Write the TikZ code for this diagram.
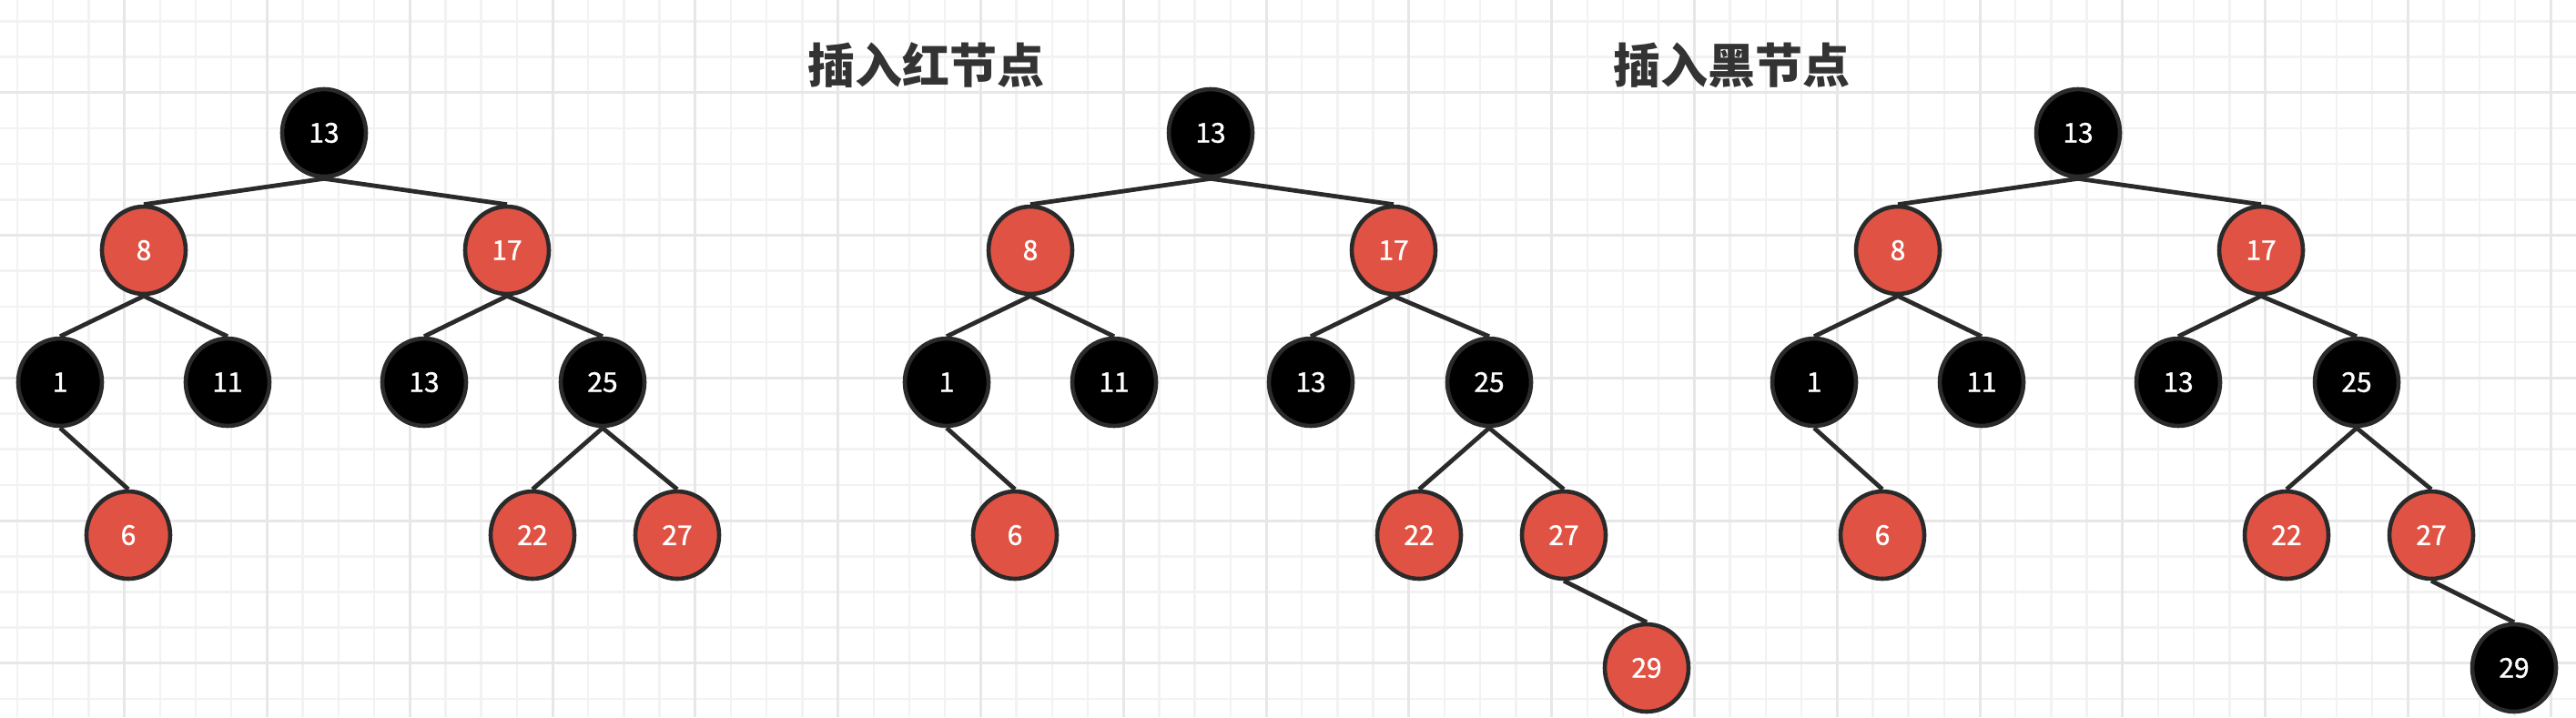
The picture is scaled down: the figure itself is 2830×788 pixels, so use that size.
\documentclass[tikz,border=0pt]{standalone}
\usepackage{fontspec}
\setmainfont{Noto Sans CJK SC}
\newfontfamily\digitfont[FakeBold=1.2]{Noto Sans CJK SC}
\usetikzlibrary{shapes.geometric}
\definecolor{rbred}{HTML}{E05243}
\definecolor{rbedge}{HTML}{2A2A2A}
\definecolor{gridminor}{HTML}{F2F2F2}
\definecolor{gridmajor}{HTML}{E7E7E7}
\definecolor{titlecol}{HTML}{333333}
\tikzset{
  rbnode/.style={ellipse, draw=rbedge, line width=2.3pt, minimum width=46pt, minimum height=48pt, inner sep=0pt, text=white, font=\digitfont\fontsize{15}{15}\selectfont},
  blk/.style={rbnode, fill=black},
  rdn/.style={rbnode, fill=rbred},
  link/.style={draw=rbedge, line width=2.4pt},
  titletext/.style={text=titlecol, font=\fontsize{26}{26}\selectfont\bfseries},
  gminor/.style={draw=gridminor, line width=1.25pt},
  gmajor/.style={draw=gridmajor, line width=1.5pt}
}
\newcommand\basetree[1]{%
  \node[blk] (r) at (#1,146) {13};
  \node[rdn] (a8) at ({#1-198},275) {8};
  \node[rdn] (a17) at ({#1+201},275) {17};
  \node[blk] (b1) at ({#1-290},420) {1};
  \node[blk] (b11) at ({#1-106},420) {11};
  \node[blk] (b13) at ({#1+110},420) {13};
  \node[blk] (b25) at ({#1+306},420) {25};
  \node[rdn] (c6) at ({#1-215},588) {6};
  \node[rdn] (c22) at ({#1+229},588) {22};
  \node[rdn] (c27) at ({#1+388},588) {27};
  \draw[link] (r.south) -- (a8.north);
  \draw[link] (r.south) -- (a17.north);
  \draw[link] (a8.south) -- (b1.north);
  \draw[link] (a8.south) -- (b11.north);
  \draw[link] (a17.south) -- (b13.north);
  \draw[link] (a17.south) -- (b25.north);
  \draw[link] (b1.south) -- (c6.north);
  \draw[link] (b25.south) -- (c22.north);
  \draw[link] (b25.south) -- (c27.north);
}
\begin{document}
\begin{tikzpicture}[x=0.5pt,y=-0.5pt]
\fill[white] (0,0) rectangle (2830,788);
\useasboundingbox (0,0) rectangle (2830,788);
\foreach \i in {0,...,71} { \draw[gminor] ({19+39.2*\i},0) -- ({19+39.2*\i},788); }
\foreach \j in {0,...,19} { \draw[gminor] (0,{23.3+39.2*\j}) -- (2830,{23.3+39.2*\j}); }
\foreach \k in {0,...,17} { \draw[gmajor] ({136.7+156.8*\k},0) -- ({136.7+156.8*\k},788); }
\foreach \k in {0,...,4} { \draw[gmajor] (0,{101.7+156.8*\k}) -- (2830,{101.7+156.8*\k}); }

\node[titletext] (title1) at (1017,72) {插入红节点};
\node[titletext] (title2) at (1902,72) {插入黑节点};

\begin{scope}[name prefix=t1-]
  \basetree{356}
\end{scope}
\begin{scope}[name prefix=t2-]
  \basetree{1330}
  \node[rdn] (d29) at (1809,734) {29};
  \draw[link] (c27.south) -- (d29.north);
\end{scope}
\begin{scope}[name prefix=t3-]
  \basetree{2283}
  \node[blk] (d29) at (2762,734) {29};
  \draw[link] (c27.south) -- (d29.north);
\end{scope}
\end{tikzpicture}
\end{document}
